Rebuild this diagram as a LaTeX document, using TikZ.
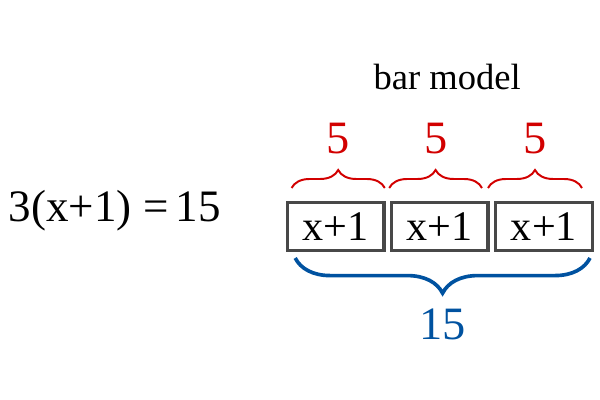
\documentclass[tikz,border=0pt]{standalone}
\usepackage{fontspec}
\setmainfont{Liberation Serif}
\usepackage{xcolor}
\usetikzlibrary{positioning, decorations.pathreplacing}
\definecolor{PartRed}{RGB}{210,0,0}
\definecolor{WholeBlue}{RGB}{0,82,160}
\definecolor{BoxGray}{RGB}{72,72,72}

\begin{document}
\begin{tikzpicture}[
        bar/.style={rectangle,draw=BoxGray,line width=2.4pt,
                    minimum width=2.42cm,minimum height=1.2cm,
                    font=\fontsize{30}{30}\selectfont},
        part/.style={decorate,draw=PartRed,line width=1.4pt,
                     decoration={brace,amplitude=0.45cm}},
        whole/.style={decorate,draw=WholeBlue,line width=2.6pt,
                      decoration={brace,mirror,amplitude=0.88cm}},
        lbl/.style={font=\fontsize{33}{33}\selectfont}
      ]
        \useasboundingbox (0,0) rectangle (15,10);
        \node[anchor=base west,font=\fontsize{32}{32}\selectfont] (eq) at (0.1,4.45) {3(x+1) =\,15};
        \node[font=\fontsize{26}{26}\selectfont] (title) at (11.18,8.08) {bar model};
        \node[bar] (b1) at (8.39,4.33) {x+1};
        \node[bar,right=0.1cm of b1] (b2) {x+1};
        \node[bar,right=0.1cm of b2] (b3) {x+1};
        \coordinate (p0) at (7.29,5.3);
        \coordinate (p1) at (9.62,5.3);
        \coordinate (p2) at (9.73,5.3);
        \coordinate (p3) at (12.05,5.3);
        \coordinate (p4) at (12.2,5.3);
        \coordinate (p5) at (14.55,5.3);
        \coordinate (w0) at (7.38,3.55);
        \coordinate (w1) at (14.75,3.55);
        \draw[part] (p0)--node[above=0.7cm,lbl,text=PartRed]{5}(p1);
        \draw[part] (p2)--node[above=0.7cm,lbl,text=PartRed]{5}(p3);
        \draw[part] (p4)--node[above=0.7cm,lbl,text=PartRed]{5}(p5);
        \draw[whole] (w0)--node[below=1.1cm,lbl,text=WholeBlue]{15}(w1);
      \end{tikzpicture}
\end{document}
